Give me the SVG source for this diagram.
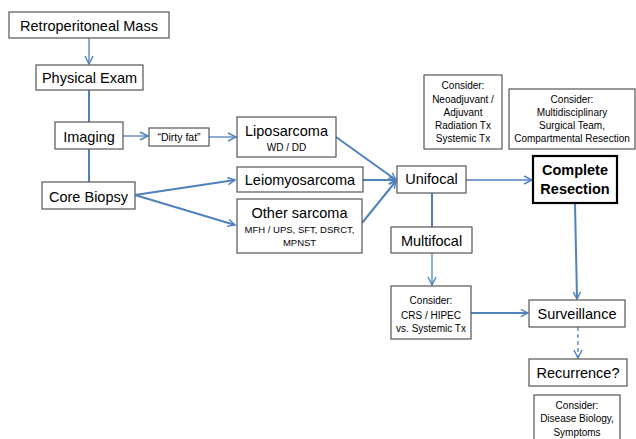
<svg xmlns="http://www.w3.org/2000/svg" width="636" height="439" viewBox="0 0 636 439">
<defs>
<marker id="ah" viewBox="0 0 10 10" refX="9" refY="5" markerWidth="9" markerHeight="9" markerUnits="userSpaceOnUse" orient="auto">
<path d="M1,1 L9,5 L1,9" fill="none" stroke="#4f81bd" stroke-width="1.6"/>
</marker>
<marker id="ahs" viewBox="0 0 10 10" refX="9" refY="5" markerWidth="10" markerHeight="10" markerUnits="userSpaceOnUse" orient="auto">
<path d="M1,1 L9,5 L1,9" fill="none" stroke="#4f81bd" stroke-width="1.4"/>
</marker>
</defs>
<style>
.box{fill:#fff;stroke:#555;stroke-width:1.2}
.bold{fill:#fff;stroke:#000;stroke-width:2.2}
text{font-family:"Liberation Sans",Arial,sans-serif;fill:#000;text-anchor:middle}
.m{font-size:14.5px}
.s{font-size:10px}
.xs{font-size:9.5px}
.c{font-size:10px}
.b{font-size:14.5px;font-weight:bold}
.ln{fill:none;stroke:#4f81bd;stroke-width:2}
.thin{fill:none;stroke:#4f81bd;stroke-width:1.3}
</style>
<rect width="636" height="439" fill="#fff"/>
<g id="connectors">
<line class="thin" x1="89" y1="38" x2="89" y2="64" marker-end="url(#ahs)"/>
<line class="ln" x1="89" y1="90" x2="89" y2="122"/>
<line class="ln" x1="89" y1="149" x2="89" y2="182"/>
<line class="thin" x1="123" y1="136" x2="148" y2="136" marker-end="url(#ahs)"/>
<line class="thin" x1="209" y1="137" x2="236" y2="137" marker-end="url(#ahs)"/>
<line class="ln" x1="135" y1="195" x2="235" y2="180" marker-end="url(#ah)"/>
<line class="ln" x1="135" y1="195" x2="235" y2="225" marker-end="url(#ah)"/>
<line class="ln" x1="336" y1="137" x2="396" y2="180" marker-end="url(#ah)"/>
<line class="ln" x1="363" y1="180" x2="396" y2="180" marker-end="url(#ah)"/>
<line class="ln" x1="362" y1="223" x2="396" y2="181" marker-end="url(#ah)"/>
<line class="thin" x1="466" y1="180" x2="532" y2="180" marker-end="url(#ahs)"/>
<line class="ln" x1="432" y1="193" x2="432" y2="227"/>
<line class="thin" x1="432" y1="253" x2="432" y2="285" marker-end="url(#ahs)"/>
<line class="ln" x1="471" y1="313" x2="528" y2="313" marker-end="url(#ah)"/>
<line class="ln" x1="575" y1="203" x2="577" y2="299" marker-end="url(#ah)"/>
<line class="thin" x1="578" y1="327" x2="578" y2="358" stroke-dasharray="4,3" marker-end="url(#ahs)"/>
</g>
<g id="retro"><rect class="box" x="9" y="12" width="160" height="26"/><text class="m" x="89" y="30.5">Retroperitoneal Mass</text></g>
<g id="physical"><rect class="box" x="36" y="65" width="107" height="25"/><text class="m" x="89.5" y="83">Physical Exam</text></g>
<g id="imaging"><rect class="box" x="55" y="122" width="68" height="27"/><text class="m" x="89" y="141.5">Imaging</text></g>
<g id="core"><rect class="box" x="42" y="182" width="93" height="27"/><text class="m" x="88.5" y="201.5">Core Biopsy</text></g>
<g id="dirty"><rect class="box" x="149" y="128" width="60" height="18"/><text class="s" x="179" y="140.5" style="font-size:10.5px">“Dirty fat”</text></g>
<g id="lipo"><rect class="box" x="237" y="117" width="99" height="40"/><text class="m" x="286.5" y="136">Liposarcoma</text><text class="s" x="286.5" y="150.5">WD / DD</text></g>
<g id="leio"><rect class="box" x="237" y="167" width="126" height="25"/><text class="m" x="300" y="185">Leiomyosarcoma</text></g>
<g id="other"><rect class="box" x="237" y="199" width="125" height="54"/><text class="m" x="299.5" y="218">Other sarcoma</text><text class="xs" x="299.5" y="233">MFH / UPS, SFT, DSRCT,</text><text class="xs" x="299.5" y="246">MPNST</text></g>
<g id="unifocal"><rect class="box" x="397" y="166" width="69" height="27"/><text class="m" x="431.5" y="184">Unifocal</text></g>
<g id="neo"><rect class="box" x="424" y="75" width="78" height="74"/><text class="c" x="463" y="89">Consider:</text><text class="c" x="463" y="102.5">Neoadjuvant /</text><text class="c" x="463" y="115.5">Adjuvant</text><text class="c" x="463" y="128.5">Radiation Tx</text><text class="c" x="463" y="141.5">Systemic Tx</text></g>
<g id="multi"><rect class="box" x="509" y="89" width="126" height="60"/><text class="c" x="572" y="103">Consider:</text><text class="c" x="572" y="116">Multidisciplinary</text><text class="c" x="572" y="129">Surgical Team,</text><text class="c" x="572" y="142">Compartmental Resection</text></g>
<g id="complete"><rect class="bold" x="533" y="156" width="84" height="47"/><text class="b" x="575" y="175">Complete</text><text class="b" x="575" y="194">Resection</text></g>
<g id="multifocal"><rect class="box" x="391" y="227" width="81" height="26"/><text class="m" x="431.5" y="245.5">Multifocal</text></g>
<g id="crs"><rect class="box" x="391" y="286" width="80" height="53"/><text class="c" x="431" y="304">Consider:</text><text class="c" x="431" y="319">CRS / HIPEC</text><text class="c" x="431" y="332">vs. Systemic Tx</text></g>
<g id="surv"><rect class="box" x="529" y="300" width="96" height="27"/><text class="m" x="577" y="318.5">Surveillance</text></g>
<g id="recur"><rect class="box" x="529" y="359" width="98" height="27"/><text class="m" x="578" y="377.5">Recurrence?</text></g>
<g id="disease"><rect class="box" x="534" y="395" width="86" height="50"/><text class="c" x="577" y="408.5">Consider:</text><text class="c" x="577" y="422">Disease Biology,</text><text class="c" x="577" y="435.5">Symptoms</text></g>
</svg>
